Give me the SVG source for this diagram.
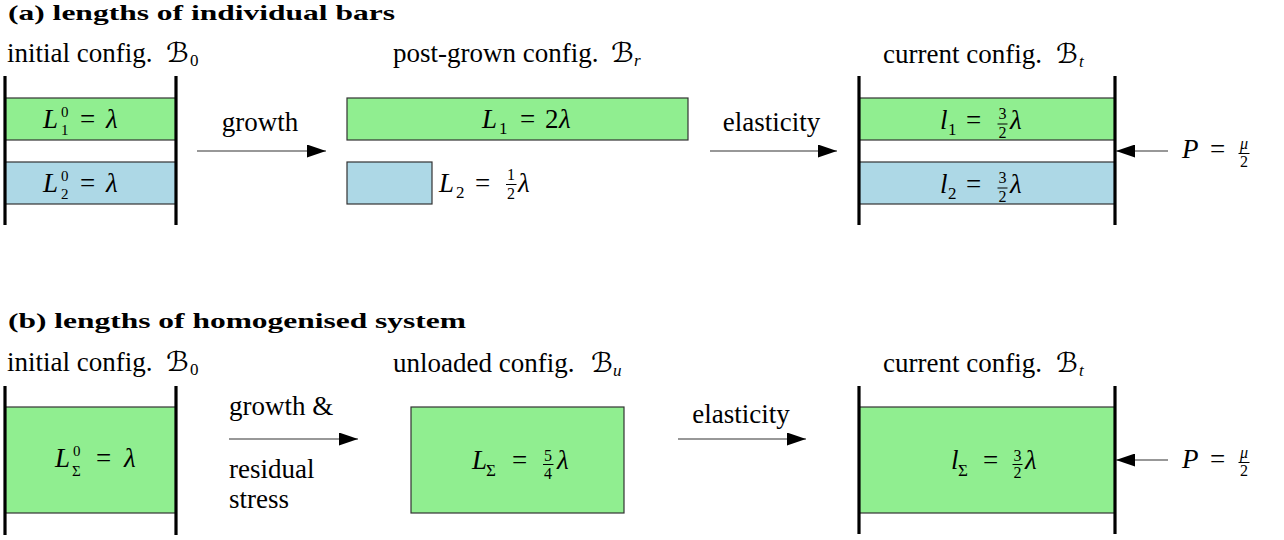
<svg xmlns="http://www.w3.org/2000/svg" width="1284" height="540" viewBox="0 0 1284 540">
<style>
.t{font-family:"Liberation Serif",serif;font-size:27px;fill:#000}
.i{font-style:italic}
.s{font-size:17px}
.ss{font-size:15px}
.f{font-size:16px}
.h{font-family:"Liberation Serif",serif;font-weight:bold;font-size:22px;fill:#000}
.cal{font-family:"DejaVu Serif","DejaVu Sans",serif;font-style:italic;font-size:27px;fill:#000}
.wall{stroke:#000;stroke-width:3.2;fill:none}
.g{fill:#90EE90;stroke:#333;stroke-width:1.2}
.b{fill:#ADD8E6;stroke:#333;stroke-width:1.2}
.arr{stroke:#333;stroke-width:1.2;fill:none;marker-end:url(#ah)}
.fb{stroke:#000;stroke-width:1}
</style>
<defs>
<marker id="ah" markerUnits="userSpaceOnUse" markerWidth="19" markerHeight="13" refX="19" refY="6.5" orient="auto">
<path d="M0,0 L19,6.5 L0,13 z" fill="#000"/>
</marker>
</defs>
<rect width="1284" height="540" fill="#fff"/>

<g id="titles">
<text class="h" x="8" y="20" textLength="387" lengthAdjust="spacingAndGlyphs">(a) lengths of individual bars</text>
<text class="h" x="8" y="328" textLength="458" lengthAdjust="spacingAndGlyphs">(b) lengths of homogenised system</text>
</g>

<!-- (a) initial configuration -->
<g id="a-initial">
<text class="t" x="7" y="62">initial config.</text>
<text class="cal" x="166" y="62" textLength="23" lengthAdjust="spacingAndGlyphs">ℬ</text>
<text class="t s" x="190" y="66">0</text>
<rect class="g" x="5" y="98" width="171" height="42"/>
<rect class="b" x="5" y="162" width="171" height="42"/>
<line class="wall" x1="5" y1="76" x2="5" y2="225"/>
<line class="wall" x1="176" y1="76" x2="176" y2="225"/>
<text class="t" y="128"><tspan class="i" x="43">L</tspan><tspan class="ss" x="61" y="117">0</tspan><tspan class="ss" x="61" y="135">1</tspan><tspan x="80" y="128">=</tspan><tspan class="i" x="106">λ</tspan></text>
<text class="t" y="192"><tspan class="i" x="43">L</tspan><tspan class="ss" x="61" y="181">0</tspan><tspan class="ss" x="61" y="199">2</tspan><tspan x="80" y="192">=</tspan><tspan class="i" x="106">λ</tspan></text>
</g>

<!-- (a) post-grown configuration -->
<g id="a-postgrown">
<text class="t" x="393" y="62">post-grown config.</text>
<text class="cal" x="611" y="62" textLength="23" lengthAdjust="spacingAndGlyphs">ℬ</text>
<text class="t s i" x="634" y="66">r</text>
<rect class="g" x="347" y="98" width="341" height="42"/>
<rect class="b" x="347" y="162" width="85" height="42"/>
<text class="t" y="128"><tspan class="i" x="482">L</tspan><tspan class="s" x="499" y="134">1</tspan><tspan x="520" y="128">=</tspan><tspan x="545">2</tspan><tspan class="i" x="559">λ</tspan></text>
<text class="t" y="192"><tspan class="i" x="439">L</tspan><tspan class="s" x="456" y="198">2</tspan><tspan x="475" y="192">=</tspan><tspan class="i" x="518">λ</tspan></text>
<text class="t f" x="511" y="180" text-anchor="middle">1</text>
<line class="fb" x1="506" y1="184.5" x2="516.5" y2="184.5"/>
<text class="t f" x="511" y="199" text-anchor="middle">2</text>
</g>

<!-- (a) current configuration -->
<g id="a-current">
<text class="t" x="883" y="63">current config.</text>
<text class="cal" x="1056" y="63" textLength="22" lengthAdjust="spacingAndGlyphs">ℬ</text>
<text class="t s i" x="1079" y="67">t</text>
<rect class="g" x="859" y="98" width="256" height="42"/>
<rect class="b" x="859" y="162" width="256" height="42"/>
<line class="wall" x1="859" y1="76" x2="859" y2="225"/>
<line class="wall" x1="1115" y1="76" x2="1115" y2="225"/>
<text class="t" y="129"><tspan class="i" x="940">l</tspan><tspan class="s" x="948" y="135">1</tspan><tspan x="966" y="129">=</tspan><tspan class="i" x="1010">λ</tspan></text>
<text class="t f" x="1002.5" y="118.5" text-anchor="middle">3</text>
<line class="fb" x1="997.5" y1="124" x2="1007.5" y2="124"/>
<text class="t f" x="1002.5" y="137.5" text-anchor="middle">2</text>
<text class="t" y="193"><tspan class="i" x="940">l</tspan><tspan class="s" x="948" y="199">2</tspan><tspan x="966" y="193">=</tspan><tspan class="i" x="1010">λ</tspan></text>
<text class="t f" x="1002.5" y="182.5" text-anchor="middle">3</text>
<line class="fb" x1="997.5" y1="188" x2="1007.5" y2="188"/>
<text class="t f" x="1002.5" y="201.5" text-anchor="middle">2</text>
<text class="t" y="158"><tspan class="i" x="1182">P</tspan><tspan x="1210">=</tspan></text>
<text class="t f i" x="1244" y="149" text-anchor="middle">μ</text>
<line class="fb" x1="1238.5" y1="153.5" x2="1249.5" y2="153.5"/>
<text class="t f" x="1244" y="166.5" text-anchor="middle">2</text>
</g>

<!-- (b) initial configuration -->
<g id="b-initial">
<text class="t" x="7" y="371">initial config.</text>
<text class="cal" x="166" y="371" textLength="23" lengthAdjust="spacingAndGlyphs">ℬ</text>
<text class="t s" x="190" y="375">0</text>
<rect class="g" x="5" y="407" width="171" height="106"/>
<line class="wall" x1="5" y1="386" x2="5" y2="535"/>
<line class="wall" x1="176" y1="386" x2="176" y2="535"/>
<text class="t" y="467"><tspan class="i" x="55">L</tspan><tspan class="ss" x="73" y="456">0</tspan><tspan class="ss" x="72" y="476">Σ</tspan><tspan x="96" y="467">=</tspan><tspan class="i" x="124">λ</tspan></text>
</g>

<!-- (b) unloaded configuration -->
<g id="b-unloaded">
<text class="t" x="393" y="372">unloaded config.</text>
<text class="cal" x="591" y="372" textLength="22" lengthAdjust="spacingAndGlyphs">ℬ</text>
<text class="t s i" x="613" y="376">u</text>
<rect class="g" x="411" y="407" width="213" height="106"/>
<text class="t" y="469"><tspan class="i" x="472">L</tspan><tspan class="s" x="486" y="476">Σ</tspan><tspan x="512" y="469">=</tspan><tspan class="i" x="557">λ</tspan></text>
<text class="t f" x="548" y="461" text-anchor="middle">5</text>
<line class="fb" x1="543" y1="464.5" x2="553.5" y2="464.5"/>
<text class="t f" x="548" y="478.5" text-anchor="middle">4</text>
</g>

<!-- (b) current configuration -->
<g id="b-current">
<text class="t" x="883" y="372">current config.</text>
<text class="cal" x="1056" y="372" textLength="22" lengthAdjust="spacingAndGlyphs">ℬ</text>
<text class="t s i" x="1079" y="376">t</text>
<rect class="g" x="859" y="407" width="256" height="106"/>
<line class="wall" x1="859" y1="386" x2="859" y2="534"/>
<line class="wall" x1="1115" y1="386" x2="1115" y2="534"/>
<text class="t" y="469"><tspan class="i" x="951">l</tspan><tspan class="s" x="958" y="476">Σ</tspan><tspan x="983" y="469">=</tspan><tspan class="i" x="1025">λ</tspan></text>
<text class="t f" x="1017.5" y="461" text-anchor="middle">3</text>
<line class="fb" x1="1012.5" y1="464.5" x2="1022.5" y2="464.5"/>
<text class="t f" x="1017.5" y="478" text-anchor="middle">2</text>
<text class="t" y="468"><tspan class="i" x="1182">P</tspan><tspan x="1210">=</tspan></text>
<text class="t f i" x="1244" y="458" text-anchor="middle">μ</text>
<line class="fb" x1="1238.5" y1="462.5" x2="1249.5" y2="462.5"/>
<text class="t f" x="1244" y="476" text-anchor="middle">2</text>
</g>

<g id="connectors">
<line class="arr" x1="197" y1="151" x2="326" y2="151"/>
<text class="t" x="260" y="131" text-anchor="middle">growth</text>
<line class="arr" x1="710" y1="151" x2="837" y2="151"/>
<text class="t" x="771.5" y="131" text-anchor="middle">elasticity</text>
<line class="arr" x1="1168" y1="151" x2="1116" y2="151"/>
<line class="arr" x1="229" y1="439" x2="358" y2="439"/>
<text class="t" x="229" y="415">growth &amp;</text>
<text class="t" x="229" y="478">residual</text>
<text class="t" x="229" y="508">stress</text>
<line class="arr" x1="678" y1="439" x2="806" y2="439"/>
<text class="t" x="741" y="423" text-anchor="middle">elasticity</text>
<line class="arr" x1="1168" y1="460" x2="1116" y2="460"/>
</g>
</svg>
